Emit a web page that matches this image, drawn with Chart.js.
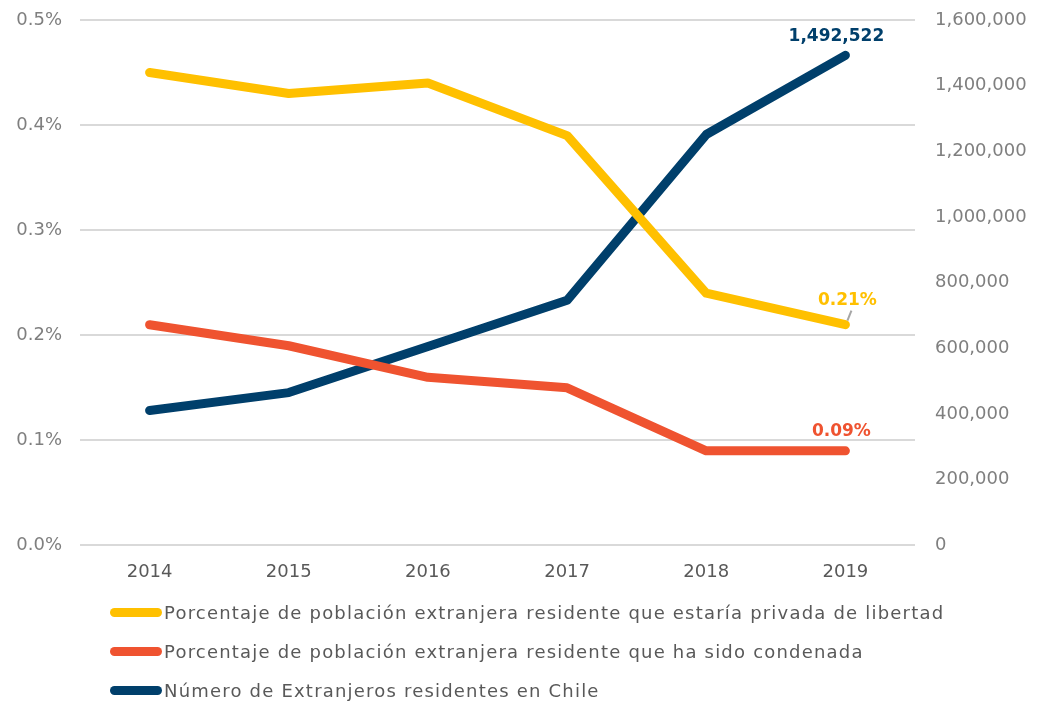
<!DOCTYPE html>
<html>
<head>
<meta charset="utf-8">
<script src="https://cdn.jsdelivr.net/npm/chart.js@4"></script>
<style>
  body { margin: 0; background: #fff; font-family: "DejaVu Sans", sans-serif; }
  #wrap { position: relative; width: 1044px; height: 702px; }
  #legend { position: absolute; left: 110px; top: 593px; }
  .item { display: flex; align-items: center; height: 39px; font-size: 18px; color: #595959; letter-spacing: 1.2px; white-space: nowrap; }
  .swatch { width: 52px; height: 9px; border-radius: 5px; margin-right: 2px; }
</style>
</head>
<body>
<div id="wrap">
  <canvas id="chart" width="1044" height="702"></canvas>
  <div id="legend"></div>
</div>
<script>
let years = ["2014", "2015", "2016", "2017", "2018", "2019"];
let privados = [0.45, 0.43, 0.44, 0.39, 0.24, 0.21];
let condenados = [0.21, 0.19, 0.16, 0.15, 0.09, 0.09];
let extranjeros = [410988, 465319, 606000, 746465, 1251225, 1492522];

let names = [
    "Porcentaje de población extranjera residente que estaría privada de libertad",
    "Porcentaje de población extranjera residente que ha sido condenada",
    "Número de Extranjeros residentes en Chile"
];
let colors = ["#FFC000", "#EF5330", "#003F6B"];

const fmt = new Intl.NumberFormat("en-US");
const font = "DejaVu Sans";

// labels next to the last point of each line
const endLabels = {
    id: "endLabels",
    afterDatasetsDraw(c) {
        const ctx = c.ctx;
        ctx.save();
        ctx.font = "bold 17px '" + font + "'";
        ctx.textAlign = "center";
        ctx.textBaseline = "bottom";

        let p = c.getDatasetMeta(0).data[5];
        ctx.strokeStyle = "#a6a6a6";
        ctx.lineWidth = 2;
        ctx.beginPath();
        ctx.moveTo(p.x + 2, p.y - 4);
        ctx.lineTo(p.x + 6, p.y - 14);
        ctx.stroke();
        ctx.fillStyle = colors[0];
        ctx.fillText(privados[5].toFixed(2) + "%", p.x + 2, p.y - 16);

        p = c.getDatasetMeta(1).data[5];
        ctx.fillStyle = colors[1];
        ctx.fillText(condenados[5].toFixed(2) + "%", p.x - 4, p.y - 11);

        p = c.getDatasetMeta(2).data[5];
        ctx.fillStyle = colors[2];
        ctx.fillText(fmt.format(extranjeros[5]), p.x - 9, p.y - 10);
        ctx.restore();
    }
};

function line(label, data, color, axis) {
    return {
        label: label,
        data: data,
        borderColor: color,
        backgroundColor: color,
        borderWidth: 9,
        borderCapStyle: "round",
        borderJoinStyle: "round",
        pointRadius: 0,
        tension: 0,
        yAxisID: axis
    };
}

function fitY(width) {
    return s => {
        s.width = width;
        s.paddingTop = 0;
        s.paddingBottom = 0;
    };
}

new Chart(document.getElementById("chart"), {
    type: "line",
    data: {
        labels: years,
        datasets: [
            line(names[0], privados, colors[0], "y"),
            line(names[1], condenados, colors[1], "y"),
            line(names[2], extranjeros, colors[2], "y2")
        ]
    },
    options: {
        responsive: false,
        animation: false,
        layout: { padding: { top: 20, bottom: 111, left: 0, right: 0 } },
        plugins: { legend: { display: false }, tooltip: { enabled: false } },
        scales: {
            x: {
                offset: true,
                grid: { display: false },
                border: { display: false },
                ticks: { color: "#595959", font: { family: font, size: 18 }, padding: 8 }
            },
            y: {
                position: "left",
                min: 0, max: 0.5,
                afterFit: fitY(80),
                grid: { color: "#d9d9d9", lineWidth: 2, drawTicks: false },
                border: { display: false },
                ticks: {
                    stepSize: 0.1, padding: 18, color: "#7f7f7f",
                    font: { family: font, size: 18 },
                    callback: v => v.toFixed(1) + "%"
                }
            },
            y2: {
                position: "right",
                min: 0, max: 1600000,
                afterFit: fitY(129),
                grid: { display: false },
                border: { display: false },
                ticks: {
                    stepSize: 200000, padding: 12, color: "#7f7f7f",
                    font: { family: font, size: 18 },
                    callback: v => fmt.format(v)
                }
            }
        }
    },
    plugins: [endLabels]
});

let legend = document.getElementById("legend");
names.forEach((n, i) => {
    let row = document.createElement("div");
    row.className = "item";
    row.innerHTML = '<span class="swatch" style="background:' + colors[i] + '"></span>' + n;
    legend.appendChild(row);
});
</script>
</body>
</html>
